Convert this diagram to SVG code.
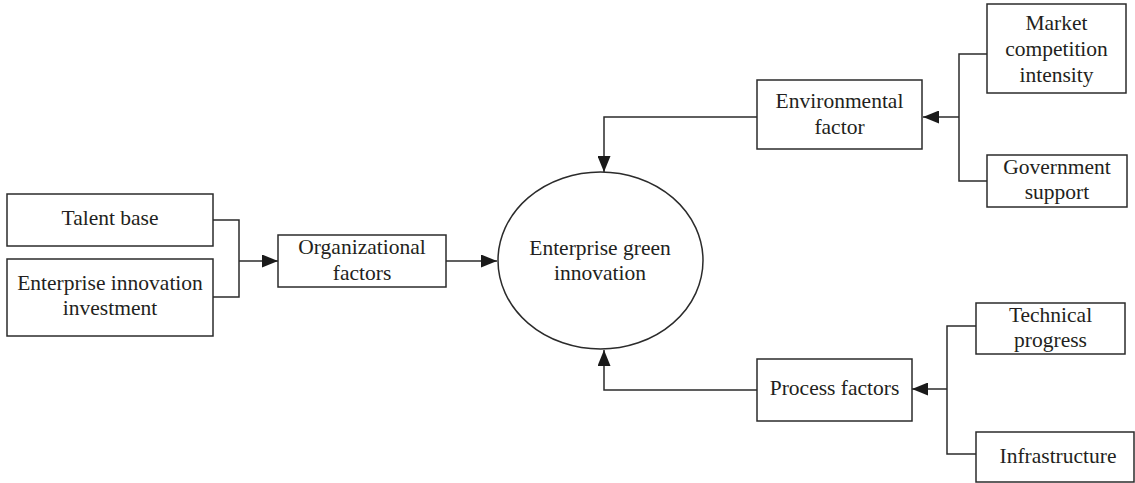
<svg xmlns="http://www.w3.org/2000/svg" width="1135" height="483" viewBox="0 0 1135 483">
<defs>
<style>
.box{fill:#fff;stroke:#2b2b2b;stroke-width:1.5}
.t{font-family:"Liberation Serif","Times New Roman",serif;font-size:21.5px;fill:#231f20;text-anchor:middle}
.c{fill:none;stroke:#2b2b2b;stroke-width:1.5}
</style>
<marker id="ah" markerUnits="userSpaceOnUse" markerWidth="17" markerHeight="13" refX="16" refY="6.5" orient="auto">
<path d="M0,0 L16,6.5 L0,13 Z" fill="#1a1a1a"/>
</marker>
</defs>
<rect width="1135" height="483" fill="#fff"/>
<g id="connectors">
<path class="c" d="M213,220 H239 V297 H213"/>
<path class="c" d="M239,261 H278" marker-end="url(#ah)"/>
<path class="c" d="M446,261 H497" marker-end="url(#ah)"/>
<path class="c" d="M757,117 H604 V172" marker-end="url(#ah)"/>
<path class="c" d="M987,54 H959 V181 H987"/>
<path class="c" d="M959,117 H923" marker-end="url(#ah)"/>
<path class="c" d="M757,390 H604 V350" marker-end="url(#ah)"/>
<path class="c" d="M976,326 H947 V454 H976"/>
<path class="c" d="M947,389 H912" marker-end="url(#ah)"/>
</g>
<g id="talent-base">
<rect class="box" x="7" y="194" width="206" height="52"/>
<text class="t" x="110" y="225">Talent base</text>
</g>
<g id="enterprise-innovation-investment">
<rect class="box" x="7" y="259" width="206" height="77"/>
<text class="t" x="110" y="290">Enterprise innovation</text>
<text class="t" x="110" y="315">investment</text>
</g>
<g id="organizational-factors">
<rect class="box" x="278" y="235" width="168" height="52"/>
<text class="t" x="362" y="254">Organizational</text>
<text class="t" x="362" y="280">factors</text>
</g>
<g id="enterprise-green-innovation">
<ellipse class="box" cx="600.5" cy="260.5" rx="102.5" ry="88.5"/>
<text class="t" x="600" y="255">Enterprise green</text>
<text class="t" x="600" y="280">innovation</text>
</g>
<g id="environmental-factor">
<rect class="box" x="757" y="80" width="165" height="69"/>
<text class="t" x="839.5" y="108">Environmental</text>
<text class="t" x="839.5" y="134">factor</text>
</g>
<g id="market-competition-intensity">
<rect class="box" x="987" y="4" width="139" height="89"/>
<text class="t" x="1056.5" y="30">Market</text>
<text class="t" x="1056.5" y="56">competition</text>
<text class="t" x="1056.5" y="82">intensity</text>
</g>
<g id="government-support">
<rect class="box" x="987" y="155" width="140" height="52"/>
<text class="t" x="1057" y="174">Government</text>
<text class="t" x="1057" y="199">support</text>
</g>
<g id="process-factors">
<rect class="box" x="757" y="359" width="155" height="62"/>
<text class="t" x="834.5" y="395">Process factors</text>
</g>
<g id="technical-progress">
<rect class="box" x="976" y="303" width="149" height="51"/>
<text class="t" x="1050.5" y="322">Technical</text>
<text class="t" x="1050.5" y="347">progress</text>
</g>
<g id="infrastructure">
<rect class="box" x="976" y="432" width="158" height="50"/>
<text class="t" x="1058" y="463">Infrastructure</text>
</g>
</svg>
